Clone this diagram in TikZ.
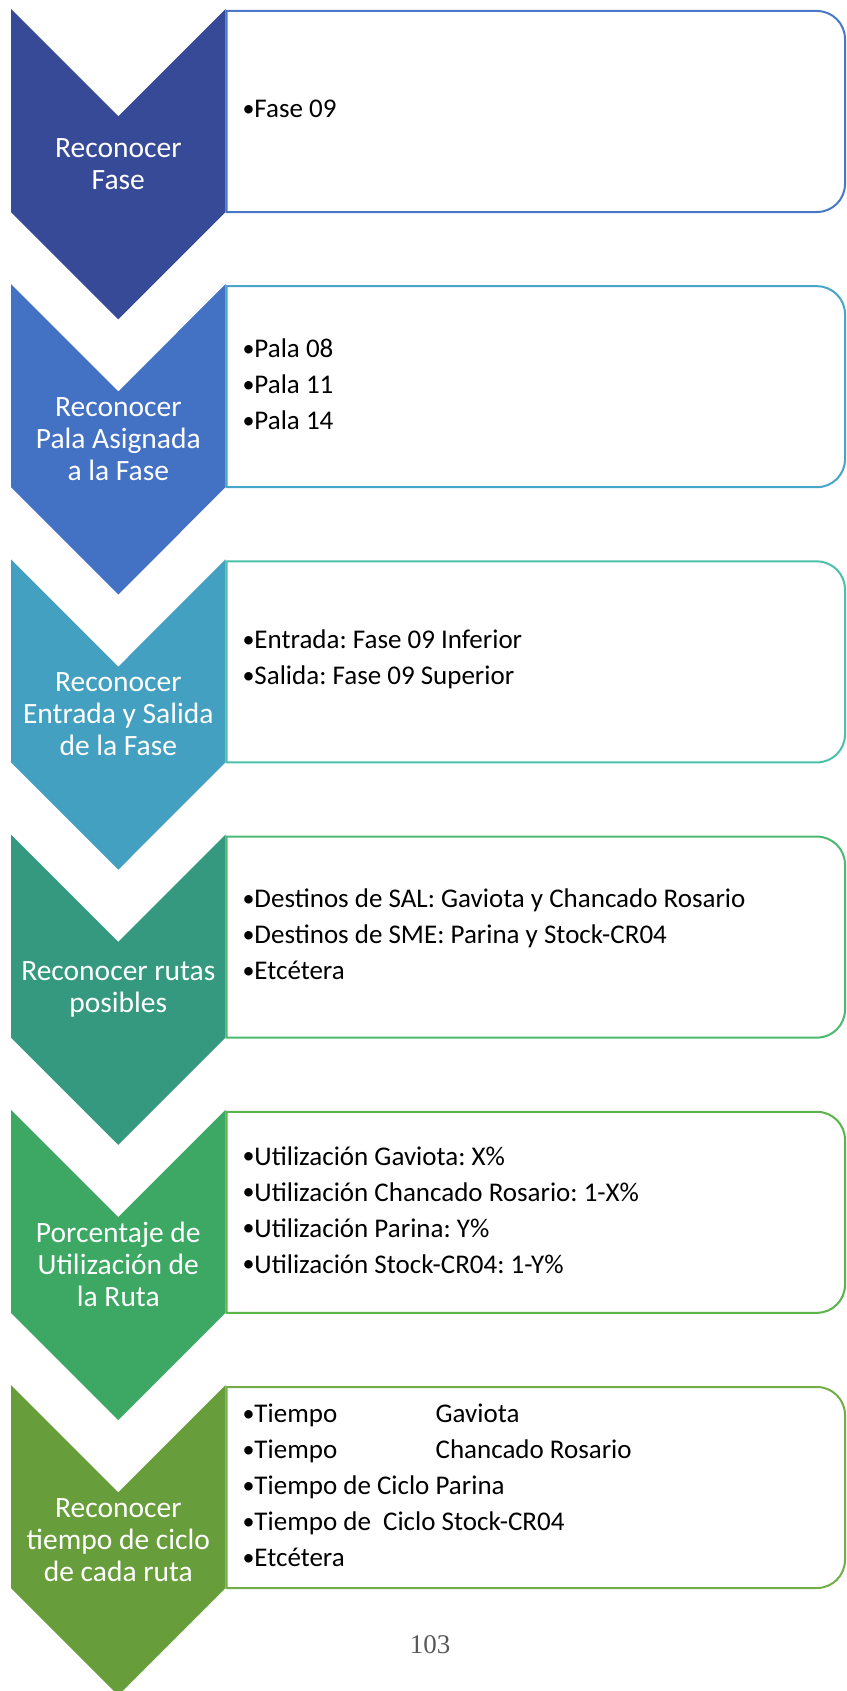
\documentclass[tikz,border=0pt]{standalone}
\usepackage{fontspec}
\setmainfont{Carlito}
\newfontfamily\pagenumfont{Liberation Serif}
\frenchspacing

\definecolor{chev1}{HTML}{364A98}
\definecolor{chev2}{HTML}{4371C4}
\definecolor{chev3}{HTML}{43A0C1}
\definecolor{chev4}{HTML}{34997F}
\definecolor{chev5}{HTML}{3CA863}
\definecolor{chev6}{HTML}{679E3B}
\definecolor{box1}{HTML}{4A78C8}
\definecolor{box2}{HTML}{47A5C8}
\definecolor{box3}{HTML}{4CC0A8}
\definecolor{box4}{HTML}{4CB972}
\definecolor{box5}{HTML}{5BB34C}
\definecolor{box6}{HTML}{72AE48}
\definecolor{pagegray}{HTML}{595959}

% small bullet in front of each item
\newcommand{\bul}{\raisebox{1.2pt}{\fontsize{24}{24}\selectfont •}}

\begin{document}
\begin{tikzpicture}[x=1pt,y=-1pt]
  \tikzstyle{step label}=[text=white, align=center, font=\fontsize{29.5}{32}\selectfont]
  \tikzstyle{step items}=[anchor=west, align=left, font=\fontsize{27}{36}\selectfont]

  \useasboundingbox (0,0) rectangle (846,1691);

  % chevron on the left, rounded box on the right
  \foreach \i/\fc/\dc in {0/chev1/box1, 1/chev2/box2, 2/chev3/box3,
                          3/chev4/box4, 4/chev5/box5, 5/chev6/box6} {
    \pgfmathsetmacro{\t}{9+275.2*\i}
    \fill[\fc] (11,\t) -- (118.3,\t+107.3) -- (225.5,\t) -- (225.5,\t+203)
               -- (118.3,\t+310.3) -- (11,\t+203) -- cycle;
    \draw[\dc, line width=2] (226.5,\t+2) -- (817,\t+2) arc (-90:0:28)
               -- (845,\t+175) arc (0:90:28) -- (226.5,\t+203) -- cycle;
  }

  \node[step label] (lbl_1) at (118.3,164)    {Reconocer\\Fase};
  \node[step label] (lbl_2) at (118.3,439.2)  {Reconocer\\Pala Asignada\\a la Fase};
  \node[step label] (lbl_3) at (118.3,714.4)  {Reconocer\\Entrada y Salida\\de la Fase};
  \node[step label] (lbl_4) at (118.3,989.6)  {Reconocer rutas\\posibles};
  \node[step label] (lbl_5) at (118.3,1264.8) {Porcentaje de\\Utilización de\\la Ruta};
  \node[step label] (lbl_6) at (118.3,1540)   {Reconocer\\tiempo de ciclo\\de cada ruta};

  \node[step items] (txt_1) at (239,109)    {\bul Fase 09};
  \node[step items] (txt_2) at (239,384.2)  {\bul Pala 08\\\bul Pala 11\\\bul Pala 14};
  \node[step items] (txt_3) at (239,659.4)  {\bul Entrada: Fase 09 Inferior\\\bul Salida: Fase 09 Superior};
  \node[step items] (txt_4) at (239,934.6)  {\bul Destinos de SAL: Gaviota y Chancado Rosario\\
                                             \bul Destinos de SME: Parina y Stock-CR04\\\bul Etcétera};
  \node[step items] (txt_5) at (239,1209.8) {\bul Utilización Gaviota: X\%\\\bul Utilización Chancado Rosario: 1-X\%\\
                                             \bul Utilización Parina: Y\%\\\bul Utilización Stock-CR04: 1-Y\%};
  \node[step items] (txt_6) at (239,1485)   {\bul Tiempo \phantom{de Ciclo} Gaviota\\
                                             \bul Tiempo \phantom{de Ciclo} Chancado Rosario\\
                                             \bul Tiempo de Ciclo Parina\\\bul Tiempo de~ Ciclo Stock-CR04\\\bul Etcétera};

  \node[text=pagegray, font=\pagenumfont\fontsize{27}{30}\selectfont] (pagenum) at (430,1645) {103};
\end{tikzpicture}
\end{document}
